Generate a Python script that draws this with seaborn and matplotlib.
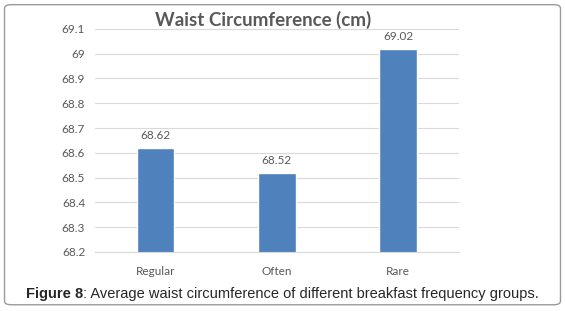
import numpy as np
import pandas as pd
import seaborn as sns
from matplotlib import pyplot as plt
from matplotlib.patches import FancyBboxPatch

groups = ['Regular', 'Often', 'Rare']
waist = [68.62, 68.52, 69.02]
yticks = [68.2, 68.3, 68.4, 68.5, 68.6, 68.7, 68.8, 68.9, 69.0, 69.1]
ytick_labels = ['68.2', '68.3', '68.4', '68.5', '68.6', '68.7', '68.8', '68.9', '69', '69.1']

df = pd.DataFrame({'group': groups, 'waist': waist})

sns.set_style('white')
plt.rcParams['font.family'] = ['Lato', 'DejaVu Sans']

fig = plt.figure(figsize=(5.65, 3.11), dpi=100)
ax = fig.add_axes([0.168, 0.19, 0.644, 0.717])

sns.barplot(x='group', y='waist', data=df, color='#4f81bd', saturation=1,
            width=0.31, ax=ax)
ax.set_ylim(68.2, 69.1)
ax.set_xlim(-0.5, 2.5)
ax.set_yticks(yticks)
ax.set_yticklabels(ytick_labels)
ax.yaxis.grid(True, color='#d9d9d9', linewidth=0.8)
ax.set_axisbelow(True)
for s in ax.spines.values():
    s.set_visible(False)
ax.spines['bottom'].set_visible(True)
ax.spines['bottom'].set_color('#d9d9d9')
ax.tick_params(axis='both', length=0, labelsize=8.5, colors='#595959', pad=7)
ax.tick_params(axis='x', pad=10)
ax.set_xlabel('')
ax.set_ylabel('')

for i, v in enumerate(waist):
    ax.annotate('%.2f' % v, (i, v), xytext=(0, 5), textcoords='offset points',
                ha='center', va='bottom', fontsize=8.5, color='#595959')

fig.text(0.466, 0.935, 'Waist Circumference (cm)', ha='center', va='center',
         fontsize=13.5, fontweight='bold', color='#595959')

cap = fig.text(0.046, 0.055, 'Figure 8', ha='left', va='center', fontsize=10.5,
               fontweight='bold', family=['Liberation Sans'])
fig.canvas.draw()
bb = cap.get_window_extent()
x1 = bb.x1 / fig.bbox.width
fig.text(x1, 0.055, ': Average waist circumference of different breakfast frequency groups.',
         ha='left', va='center', fontsize=10.5, family=['Liberation Sans'])

border = FancyBboxPatch((0.008, 0.02), 0.984, 0.965, boxstyle='round,pad=0,rounding_size=0.012',
                        transform=fig.transFigure, fill=False, edgecolor='#9a9a9a',
                        linewidth=1)
fig.patches.append(border)

plt.savefig('out.png', dpi=100)
plt.close()
